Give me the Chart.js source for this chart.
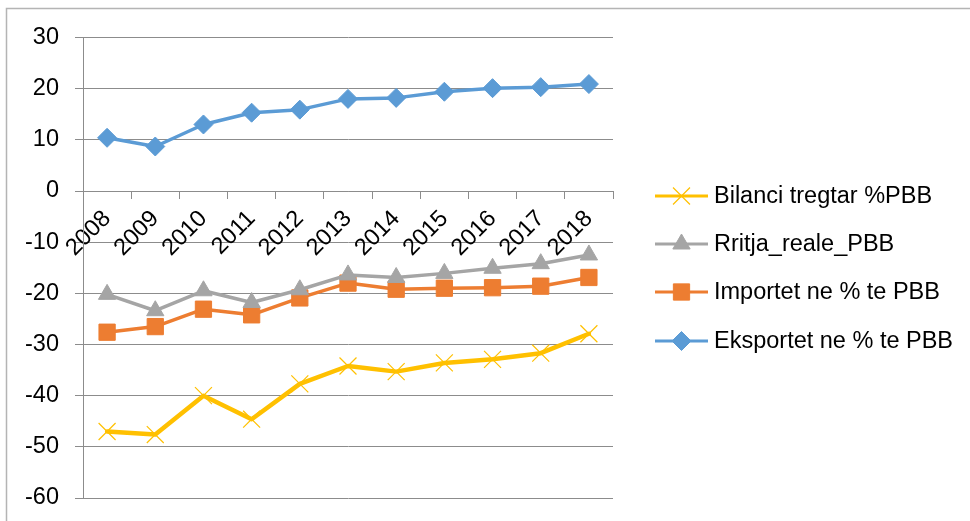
<!DOCTYPE html>
<html>
<head>
    <title>Bilanci tregtar</title>
    <script src="https://cdn.jsdelivr.net/npm/chart.js"></script>
    <style>
        body { margin: 0; background: #fff; }
        #wrap { width: 970px; height: 521px; position: relative; }
    </style>
</head>
<body>
    <div id="wrap"><canvas id="chart" width="970" height="521"></canvas></div>
    <script>
        const years = ['2008', '2009', '2010', '2011', '2012', '2013', '2014', '2015', '2016', '2017', '2018'];
        const bilanci = [-47.0, -47.6, -40.0, -44.6, -37.7, -34.2, -35.3, -33.6, -32.9, -31.7, -27.9];
        const rritja = [-20.2, -23.4, -19.5, -21.8, -19.3, -16.4, -16.9, -16.1, -15.1, -14.2, -12.5];
        const importet = [-27.6, -26.5, -23.1, -24.2, -20.9, -18.0, -19.2, -19.0, -18.9, -18.6, -16.9];
        const eksportet = [10.4, 8.7, 13.0, 15.3, 15.9, 18.0, 18.2, 19.4, 20.1, 20.3, 20.9];
        const yTicks = [30, 20, 10, 0, -10, -20, -30, -40, -50, -60];

        const FONT = '"Liberation Sans", Arial, sans-serif';
        const GRID = '#8c8c8c';

        // legend drawn by hand: line sample with marker in the middle
        const legendPlugin = {
            id: 'sideLegend',
            afterDraw(chart) {
                const ctx = chart.ctx;
                const x0 = 655, x1 = 708;
                const rows = [196, 244, 292, 341];
                chart.data.datasets.forEach((ds, i) => {
                    const y = rows[i];
                    ctx.save();
                    ctx.strokeStyle = ds.borderColor;
                    ctx.lineWidth = 3;
                    ctx.beginPath();
                    ctx.moveTo(x0, y);
                    ctx.lineTo(x1, y);
                    ctx.stroke();
                    ctx.fillStyle = ds.pointBackgroundColor;
                    ctx.strokeStyle = ds.pointBorderColor;
                    ctx.lineWidth = ds.pointBorderWidth;
                    Chart.helpers.drawPoint(ctx, {
                        pointStyle: ds.pointStyle,
                        radius: ds.pointRadius,
                        borderWidth: ds.pointBorderWidth,
                        rotation: 0
                    }, (x0 + x1) / 2, y);
                    ctx.fillStyle = '#000';
                    ctx.font = '23.5px ' + FONT;
                    ctx.textBaseline = 'middle';
                    ctx.fillText(ds.label, 714, y + 1);
                    ctx.restore();
                });
            },
            beforeDraw(chart) {
                const ctx = chart.ctx;
                ctx.save();
                ctx.strokeStyle = '#b4b4b4';
                ctx.lineWidth = 1.5;
                ctx.beginPath();
                ctx.moveTo(6.5, 521);
                ctx.lineTo(6.5, 8.5);
                ctx.lineTo(970, 8.5);
                ctx.stroke();
                ctx.restore();
            }
        };

        const chart = new Chart(document.getElementById('chart'), {
            type: 'line',
            data: {
                labels: years,
                datasets: [{
                    label: 'Bilanci tregtar %PBB',
                    data: bilanci,
                    borderColor: '#FFC000',
                    borderWidth: 4.5,
                    pointStyle: 'crossRot',
                    pointRadius: 12,
                    pointBorderWidth: 1.2,
                    pointBorderColor: '#FFC000',
                    pointBackgroundColor: '#FFC000'
                }, {
                    label: 'Rritja_reale_PBB',
                    data: rritja,
                    borderColor: '#A5A5A5',
                    borderWidth: 3.5,
                    pointStyle: 'triangle',
                    pointRadius: 10,
                    pointBorderWidth: 1,
                    pointBorderColor: '#A5A5A5',
                    pointBackgroundColor: '#A5A5A5'
                }, {
                    label: 'Importet ne % te PBB',
                    data: importet,
                    borderColor: '#ED7D31',
                    borderWidth: 3.5,
                    pointStyle: 'rect',
                    pointRadius: 11.5,
                    pointBorderWidth: 1,
                    pointBorderColor: '#ED7D31',
                    pointBackgroundColor: '#ED7D31'
                }, {
                    label: 'Eksportet ne % te PBB',
                    data: eksportet,
                    borderColor: '#5B9BD5',
                    borderWidth: 3.5,
                    pointStyle: 'rectRot',
                    pointRadius: 9.5,
                    pointBorderWidth: 1,
                    pointBorderColor: '#5B9BD5',
                    pointBackgroundColor: '#5B9BD5'
                }]
            },
            options: {
                responsive: false,
                animation: false,
                layout: { padding: { left: 0, top: 37.5, right: 357, bottom: 23 } },
                elements: { line: { borderJoinStyle: 'round', borderCapStyle: 'round' } },
                plugins: {
                    legend: { display: false },
                    tooltip: { enabled: false }
                },
                scales: {
                    x: {
                        position: { y: 0 },
                        offset: true,
                        afterFit(scale) {
                            scale.paddingTop = 0;
                            scale.paddingBottom = 0;
                        },
                        grid: {
                            offset: true,
                            drawOnChartArea: false,
                            drawTicks: true,
                            tickLength: 7,
                            color: GRID
                        },
                        border: { color: GRID, width: 1 },
                        ticks: {
                            color: '#000',
                            font: { family: FONT, size: 23.5 },
                            minRotation: 45,
                            maxRotation: 45,
                            padding: 7
                        }
                    },
                    y: {
                        min: -60,
                        max: 30,
                        afterFit(scale) {
                            scale.width = 83;
                            scale.paddingTop = 0;
                            scale.paddingBottom = 0;
                        },
                        afterBuildTicks(scale) { scale.ticks = yTicks.map(v => ({ value: v })); },
                        grid: { color: GRID, tickLength: 8 },
                        border: { color: GRID, width: 1 },
                        ticks: {
                            color: '#000',
                            font: { family: FONT, size: 23.5 },
                            padding: 16
                        }
                    }
                }
            },
            plugins: [legendPlugin]
        });
    </script>
</body>
</html>
